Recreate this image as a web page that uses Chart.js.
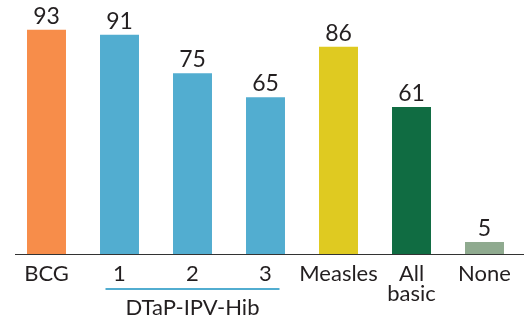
<!DOCTYPE html>
<html>
<head>
<meta charset="utf-8">
<script src="https://cdn.jsdelivr.net/npm/chart.js@4/dist/chart.umd.min.js"></script>
<style>
  html, body { margin: 0; padding: 0; background: #fff; }
  #wrap { width: 524px; height: 318px; position: relative; }
</style>
</head>
<body>
<div id="wrap"><canvas id="vacChart"></canvas></div>
<script>
// données
const categories = [["BCG"], ["1"], ["2"], ["3"], ["Measles"], ["All", "basic"], ["None"]];
const coverage = [93, 91, 75, 65, 86, 61, 5];
const barColors = ["#f78d4a", "#52add0", "#52add0", "#52add0", "#dfca21", "#106c42", "#8faa8f"];
const groupLabel = "DTaP-IPV-Hib";
const groupFrom = 1;
const groupTo = 3;

const FONT = "Lato, 'Open Sans', sans-serif";
const INK = "#231f20";

// valeurs au-dessus des barres + axe + libellé du groupe DTaP
const extras = {
  id: "extras",
  afterDatasetsDraw(chart) {
    const { ctx, scales } = chart;
    const meta = chart.getDatasetMeta(0);
    ctx.save();
    ctx.fillStyle = INK;
    ctx.font = "23px " + FONT;
    ctx.textAlign = "center";
    ctx.textBaseline = "bottom";
    meta.data.forEach((bar, i) => {
      ctx.fillText(String(coverage[i]), bar.x, bar.y - 2);
    });

    // ligne de base
    const y0 = scales.y.getPixelForValue(0);
    ctx.strokeStyle = "#333";
    ctx.lineWidth = 1;
    ctx.beginPath();
    ctx.moveTo(15, y0 + 0.5);
    ctx.lineTo(chart.width, y0 + 0.5);
    ctx.stroke();

    // soulignement du groupe
    const x1 = scales.x.getPixelForValue(groupFrom) - 14;
    const x2 = scales.x.getPixelForValue(groupTo) + 14;
    ctx.strokeStyle = "#52add0";
    ctx.lineWidth = 2;
    ctx.beginPath();
    ctx.moveTo(x1, 289);
    ctx.lineTo(x2, 289);
    ctx.stroke();

    ctx.font = "22px " + FONT;
    ctx.textBaseline = "alphabetic";
    ctx.fillText(groupLabel, (x1 + x2) / 2, 315);
    ctx.restore();
  },
};

new Chart(document.getElementById("vacChart"), {
  type: "bar",
  data: {
    labels: categories,
    datasets: [
      {
        data: coverage,
        backgroundColor: barColors,
        categoryPercentage: 1,
        barPercentage: 0.534,
      },
    ],
  },
  options: {
    responsive: true,
    maintainAspectRatio: false,
    animation: false,
    layout: { padding: { left: 10, right: 3, top: 13, bottom: 0 } },
    plugins: {
      legend: { display: false },
      tooltip: { enabled: false },
    },
    scales: {
      x: {
        grid: { display: false },
        border: { display: false },
        ticks: {
          color: INK,
          font: { family: FONT, size: 22, lineHeight: 0.92 },
          padding: 2,
          maxRotation: 0,
          autoSkip: false,
        },
        afterFit: (scale) => {
          scale.height = 64;
        },
      },
      y: {
        display: false,
        min: 0,
        max: 100,
      },
    },
  },
  plugins: [extras],
});
</script>
</body>
</html>
